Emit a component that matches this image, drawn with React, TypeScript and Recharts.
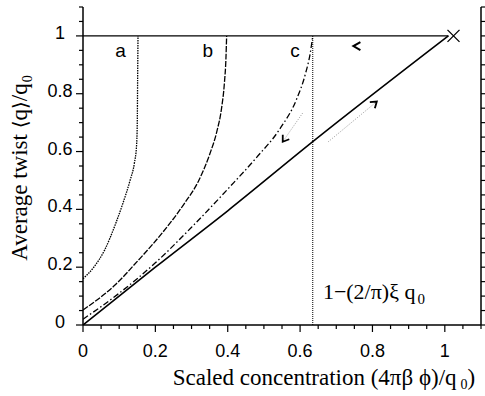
import { ComposedChart, Line, Scatter, XAxis, YAxis } from "recharts";

const CHART_W = 485;
const CHART_H = 396;
// plot box: x 83..481, y 7..325
const PX_PER_X = 398 / 1.1;
const PX_PER_Y = 318 / 1.1;

const MAJOR_TICKS = [0, 0.2, 0.4, 0.6, 0.8, 1];
const ALL_TICKS = [
  0, 0.05, 0.1, 0.15, 0.2, 0.25, 0.3, 0.35, 0.4, 0.45, 0.5, 0.55, 0.6, 0.65, 0.7, 0.75, 0.8,
  0.85, 0.9, 0.95, 1, 1.05, 1.1,
];

const CURVE_A_X = [0, 0.03, 0.06, 0.09, 0.11, 0.13, 0.142, 0.148, 0.15, 0.151, 0.152];
const CURVE_A_Y = [0.16, 0.2, 0.26, 0.35, 0.42, 0.5, 0.56, 0.62, 0.7, 0.85, 1];

const CURVE_B_X = [0, 0.09, 0.15, 0.22, 0.28, 0.32, 0.35, 0.37, 0.383, 0.391, 0.395, 0.397];
const CURVE_B_Y = [0.052, 0.14, 0.22, 0.32, 0.42, 0.5, 0.59, 0.67, 0.75, 0.84, 0.92, 1];

const CURVE_C_X = [0, 0.1, 0.2, 0.3, 0.4, 0.48, 0.545, 0.59, 0.615, 0.628, 0.635];
const CURVE_C_Y = [0.02, 0.11, 0.215, 0.338, 0.47, 0.58, 0.68, 0.78, 0.87, 0.94, 1];

const SOLID_X = [0, 0.2, 0.4, 0.635, 1.01];
const SOLID_Y = [0, 0.2, 0.395, 0.634, 1];

const TOP_LINE_X = [0, 1.01];
const TOP_LINE_Y = [1, 1];

const LIMIT_X = [0.635, 0.635];
const LIMIT_Y = [0, 1];

const CROSS_X = [1.024];
const CROSS_Y = [1];

const ARROW1_X = [0.607, 0.552];
const ARROW1_Y = [0.733, 0.634];
const ARROW2_X = [0.678, 0.812];
const ARROW2_Y = [0.634, 0.773];

const CHEVRON_X = [0.757];
const CHEVRON_Y = [0.965];

const CURVE_LABELS = ["a", "b", "c"];
const CURVE_LABEL_X = [0.104, 0.345, 0.586];
const CURVE_LABEL_Y = [0.926, 0.926, 0.926];

const LIMIT_TEXT_X = [0.663];
const LIMIT_TEXT_Y = [0.09];

const zip = (xs: number[], ys: number[]) => xs.map((x, i) => ({ x, y: ys[i] }));

const isMajor = (v: number) => MAJOR_TICKS.some((m) => Math.abs(m - v) < 1e-6);

const SANS = "'Liberation Sans', Arial, sans-serif";
const SERIF = "'Liberation Serif', 'Times New Roman', serif";
const BRACKET_FONT = "'DejaVu Serif', 'DejaVu Sans', serif";

function BottomTick(props: any) {
  const { x, y, payload } = props;
  const major = isMajor(payload.value);
  return (
    <g>
      <line x1={x} x2={x} y1={y} y2={y + (major ? 7 : 4)} stroke="#000" strokeWidth={1.2} />
      {major && (
        <text x={x} y={y + 32} textAnchor="middle" fontFamily={SANS} fontSize={18} fill="#000">
          {String(payload.value)}
        </text>
      )}
    </g>
  );
}

function LeftTick(props: any) {
  const { x, y, payload } = props;
  const major = isMajor(payload.value);
  return (
    <g>
      <line x1={x} x2={x - (major ? 7 : 4)} y1={y} y2={y} stroke="#000" strokeWidth={1.2} />
      {major && (
        <text x={x - 23} y={y + 3} textAnchor="middle" fontFamily={SANS} fontSize={18} fill="#000">
          {String(payload.value)}
        </text>
      )}
    </g>
  );
}

function RightTick(props: any) {
  const { x, y } = props;
  return <line x1={x} x2={x + 4} y1={y} y2={y} stroke="#000" strokeWidth={1.2} />;
}

function arrowHead(angle: number) {
  return (props: any) => {
    const { cx, cy, index } = props;
    if (index !== 1) return <g key={`d${index}`} />;
    const len = 7;
    const spread = 0.6;
    const a1 = angle + Math.PI - spread;
    const a2 = angle + Math.PI + spread;
    return (
      <path
        key={`d${index}`}
        d={`M${cx + len * Math.cos(a1)},${cy + len * Math.sin(a1)} L${cx},${cy} L${cx + len * Math.cos(a2)},${cy + len * Math.sin(a2)}`}
        fill="none"
        stroke="#000"
        strokeWidth={1.8}
      />
    );
  };
}

const screenAngle = (xs: number[], ys: number[]) =>
  Math.atan2(-(ys[1] - ys[0]) * PX_PER_Y, (xs[1] - xs[0]) * PX_PER_X);

function CrossShape(props: any) {
  const { cx, cy } = props;
  const r = 6;
  return (
    <path
      d={`M${cx - r},${cy - r} L${cx + r},${cy + r} M${cx - r},${cy + r} L${cx + r},${cy - r}`}
      stroke="#000"
      strokeWidth={1.3}
    />
  );
}

function ChevronShape(props: any) {
  const { cx, cy } = props;
  return (
    <path
      d={`M${cx + 3.5},${cy - 4} L${cx - 3.5},${cy} L${cx + 3.5},${cy + 4}`}
      fill="none"
      stroke="#000"
      strokeWidth={2}
    />
  );
}

function CurveLabel(props: any) {
  const { cx, cy, payload } = props;
  return (
    <text x={cx} y={cy} textAnchor="middle" fontFamily={SANS} fontSize={19} fill="#000">
      {payload.label}
    </text>
  );
}

function LimitText(props: any) {
  const { cx, cy } = props;
  return (
    <text x={cx} y={cy} fontFamily={SERIF} fontSize={22} fill="#000">
      1−(2/π)ξ q
      <tspan dx={2} dy={5} fontSize={15}>
        0
      </tspan>
    </text>
  );
}

const labelData = CURVE_LABELS.map((label, i) => ({
  x: CURVE_LABEL_X[i],
  y: CURVE_LABEL_Y[i],
  label,
}));

export default function App() {
  return (
    <div style={{ position: "absolute", left: 0, top: 0, width: CHART_W, height: CHART_H, background: "#fff" }}>
      <ComposedChart width={CHART_W} height={CHART_H} margin={{ top: 7, right: 0, bottom: 0, left: 0 }}>
        <XAxis
          type="number"
          dataKey="x"
          domain={[0, 1.1]}
          ticks={ALL_TICKS}
          interval={0}
          allowDataOverflow
          tick={<BottomTick />}
          tickLine={false}
          tickSize={0}
          tickMargin={0}
          height={71}
          axisLine={{ stroke: "#000", strokeWidth: 1.5 }}
          label={{
            content: (p: any) => {
              const vb = p.viewBox;
              return (
                <text x={vb.x + 241} y={vb.y + 60} textAnchor="middle" fontFamily={SERIF} fontSize={23} fill="#000">
                  Scaled concentration (4πβ ϕ)/q
                  <tspan dx={4} dy={4} fontSize={14}>
                    0
                  </tspan>
                  <tspan dy={-4}>)</tspan>
                </text>
              );
            },
          }}
        />
        <XAxis
          xAxisId="top"
          orientation="top"
          type="number"
          dataKey="x"
          domain={[0, 1.1]}
          allowDataOverflow
          tick={false}
          tickLine={false}
          height={0}
          axisLine={{ stroke: "#000", strokeWidth: 1.5 }}
        />
        <YAxis
          type="number"
          dataKey="y"
          domain={[0, 1.1]}
          ticks={ALL_TICKS}
          interval={0}
          allowDataOverflow
          tick={<LeftTick />}
          tickLine={false}
          tickSize={0}
          tickMargin={0}
          width={83}
          axisLine={{ stroke: "#000", strokeWidth: 1.5 }}
          label={{
            content: () => (
              <text
                x={0}
                y={0}
                transform="translate(27,168) rotate(-90)"
                textAnchor="middle"
                fontFamily={SERIF}
                fontSize={23}
                fill="#000"
              >
                Average twist <tspan fontFamily={BRACKET_FONT} fontSize={20}>⟨</tspan>q
                <tspan fontFamily={BRACKET_FONT} fontSize={20}>⟩</tspan>/q
                <tspan dx={1} dy={5} fontSize={14}>
                  0
                </tspan>
              </text>
            ),
          }}
        />
        <YAxis
          yAxisId="right"
          orientation="right"
          type="number"
          dataKey="y"
          domain={[0, 1.1]}
          ticks={ALL_TICKS}
          interval={0}
          allowDataOverflow
          tick={<RightTick />}
          tickLine={false}
          tickSize={0}
          tickMargin={0}
          width={4}
          axisLine={{ stroke: "#000", strokeWidth: 1.5 }}
        />

        <Line data={zip(TOP_LINE_X, TOP_LINE_Y)} dataKey="y" stroke="#000" strokeWidth={1.3} dot={false} isAnimationActive={false} />
        <Line data={zip(LIMIT_X, LIMIT_Y)} dataKey="y" stroke="#000" strokeWidth={1} strokeDasharray="1 1" dot={false} isAnimationActive={false} />
        <Line type="monotoneX" data={zip(CURVE_A_X, CURVE_A_Y)} dataKey="y" stroke="#000" strokeWidth={1.3} strokeDasharray="1.5 1" dot={false} isAnimationActive={false} />
        <Line type="monotoneX" data={zip(CURVE_B_X, CURVE_B_Y)} dataKey="y" stroke="#000" strokeWidth={1.3} strokeDasharray="6 1.5" dot={false} isAnimationActive={false} />
        <Line type="monotoneX" data={zip(CURVE_C_X, CURVE_C_Y)} dataKey="y" stroke="#000" strokeWidth={1.3} strokeDasharray="6 2.5 1.5 2.5" dot={false} isAnimationActive={false} />
        <Line type="monotoneX" data={zip(SOLID_X, SOLID_Y)} dataKey="y" stroke="#000" strokeWidth={1.6} dot={false} isAnimationActive={false} />
        <Line
          data={zip(ARROW1_X, ARROW1_Y)}
          dataKey="y"
          stroke="#9a9a9a"
          strokeWidth={1}
          strokeDasharray="1 1.5"
          dot={arrowHead(screenAngle(ARROW1_X, ARROW1_Y))}
          isAnimationActive={false}
        />
        <Line
          data={zip(ARROW2_X, ARROW2_Y)}
          dataKey="y"
          stroke="#9a9a9a"
          strokeWidth={1}
          strokeDasharray="1 1.5"
          dot={arrowHead(screenAngle(ARROW2_X, ARROW2_Y))}
          isAnimationActive={false}
        />
        <Scatter data={zip(CROSS_X, CROSS_Y)} shape={<CrossShape />} isAnimationActive={false} />
        <Scatter data={zip(CHEVRON_X, CHEVRON_Y)} shape={<ChevronShape />} isAnimationActive={false} />
        <Scatter data={labelData} shape={<CurveLabel />} isAnimationActive={false} />
        <Scatter data={zip(LIMIT_TEXT_X, LIMIT_TEXT_Y)} shape={<LimitText />} isAnimationActive={false} />
      </ComposedChart>
    </div>
  );
}
